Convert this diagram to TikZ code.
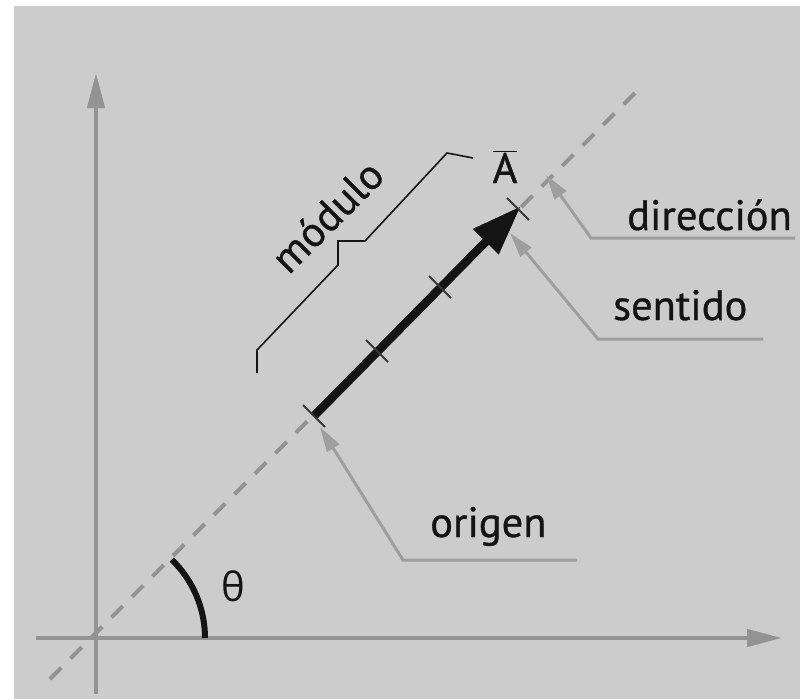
\documentclass[tikz,border=0pt]{standalone}
\usepackage{fontspec}
\setmainfont{PT Sans}
\newfontfamily\grfont{Open Sans}
\usetikzlibrary{arrows.meta,calc}
\definecolor{bg}{HTML}{CCCCCC}
\definecolor{axisgray}{HTML}{939393}
\definecolor{leadgray}{HTML}{9E9E9E}
\definecolor{ink}{HTML}{141414}
\tikzset{
  axisline/.style={draw=axisgray, line width=4.5pt, -{Triangle[length=35pt,width=17pt]}},
  dashline/.style={draw=axisgray, line width=4pt, dash pattern=on 16pt off 13pt},
  leader/.style={draw=leadgray, line width=3pt, {Triangle[length=25pt,width=14pt]}-},
  tickmark/.style={draw=ink!85, line width=2pt},
  vecline/.style={draw=ink, line width=8.5pt, -{Triangle[length=50pt,width=34pt]}, shorten >=-4pt},
  lbl/.style={font=\fontsize{42.5}{48}\selectfont\addfontfeature{FakeBold=0.8}, text=ink, inner sep=0pt},
  bracket/.style={draw=ink, line width=1.6pt},
}
\begin{document}
\begin{tikzpicture}[x=1pt,y=-1pt]
\useasboundingbox (0,0) rectangle (800,699);
\fill[bg] (14,6) rectangle (800,699);
% axes
\coordinate (O) at (96,638);
\coordinate (xs) at (36,638);
\coordinate (xe) at (782,638);
\coordinate (ys) at (96,694);
\coordinate (ye) at (96,73);
\draw[axisline] (xs) -- (xe);
\draw[axisline] (ys) -- (ye);
% dashed direction line
\coordinate (ds) at (50,679);
\coordinate (de) at (636,92);
\draw[dashline] (ds) -- (de);
% angle
\coordinate (arcstart) at (205,638);
\draw[draw=ink, line width=6pt] (arcstart) arc[start angle=0, end angle=-46, radius=109];
\node[lbl, font=\grfont\fontsize{40}{48}\selectfont] (theta) at (233,586) {θ};
% vector points
\coordinate (P0) at (314,416);
\coordinate (P1) at (377,351);
\coordinate (P2) at (440,287);
\coordinate (P3) at (518,209);
\draw[vecline] (P0) -- (P3);
\foreach \p in {P0,P1,P2,P3}{
  \draw[tickmark] ($(\p)+(-11,-11)$) -- ($(\p)+(11,11)$);
}
% label A
\node[lbl, anchor=base] (Alab) at (505,183) {$\overline{\mbox{A}}$};
% modulo bracket
\coordinate (b1) at (257,373);
\coordinate (b2) at (257,350);
\coordinate (b3) at (338,265);
\coordinate (b4) at (338,241);
\coordinate (b5) at (365,241);
\coordinate (b6) at (447,153);
\coordinate (b7) at (473,158);
\draw[bracket] (b1) -- (b2) -- (b3) -- (b4) -- (b5) -- (b6) -- (b7);
\node[lbl, rotate=45] (modulo) at (327,216) {módulo};
% leaders
\node[lbl, anchor=base west] (dir) at (627,230) {dirección};
\coordinate (dtip) at (546,175);
\coordinate (dk) at (591,238);
\coordinate (dend) at (795,238);
\draw[leader] (dtip) -- (dk) -- (dend);
\node[lbl, anchor=base west] (sen) at (613,320) {sentido};
\coordinate (stip) at (510,233);
\coordinate (sk) at (598,339);
\coordinate (send) at (763,339);
\draw[leader] (stip) -- (sk) -- (send);
\node[lbl, anchor=base west] (ori) at (430,537) {origen};
\coordinate (otip) at (320,427);
\coordinate (ok) at (403,560);
\coordinate (oend) at (577,560);
\draw[leader] (otip) -- (ok) -- (oend);
\end{tikzpicture}
\end{document}
